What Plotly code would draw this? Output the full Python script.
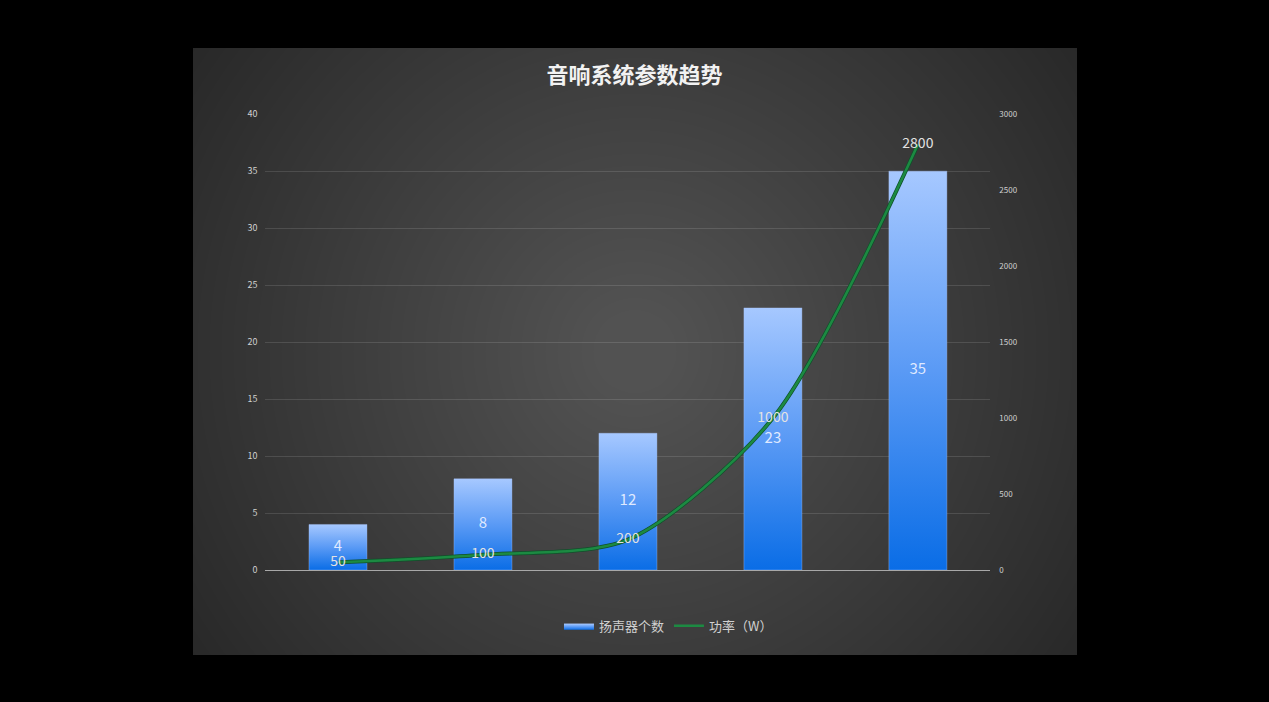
import plotly.graph_objects as go

# chart data
speakers = [4, 8, 12, 23, 35]          # 扬声器个数
power = [50, 100, 200, 1000, 2800]     # 功率（W）
bar_name = "扬声器个数"
line_name = "功率（W）"
title = "音响系统参数趋势"

FONT = "Noto Sans CJK SC, Noto Sans, sans-serif"
TICK = "#d0d0d0"

fig = go.Figure()

# background panel: many faint concentric circles on a hidden full-size subplot
fig.add_trace(go.Scatter(x=[0, 1], y=[0, 1], mode="markers",
                         marker=dict(opacity=0), hoverinfo="skip",
                         showlegend=False, xaxis="x", yaxis="y"))
shapes = [dict(type="rect", xref="paper", yref="paper", x0=0, x1=1, y0=0, y1=1,
               fillcolor="#252525", line_width=0, layer="below")]
for r in range(570, 40, -12):
    shapes.append(dict(type="circle", xref="x", yref="y",
                       xsizemode="pixel", ysizemode="pixel",
                       xanchor=0.5, yanchor=0.5, x0=-r, x1=r, y0=-r, y1=r,
                       fillcolor="rgba(255,255,255,0.007)", line_width=0,
                       layer="below"))

# bars, drawn as filled polygons so each one gets a vertical gradient
half = 0.2
for i, v in enumerate(speakers):
    fig.add_trace(go.Scatter(
        x=[i - half, i + half, i + half, i - half, i - half],
        y=[0, 0, v, v, 0],
        mode="lines", fill="toself",
        line=dict(width=0.6, color="rgba(170,200,255,0.6)"),
        fillgradient=dict(type="vertical",
                          colorscale=[[0, "#0a6de6"], [0.5, "#5a9af5"], [1, "#a6c8ff"]]),
        name=bar_name, legendgroup="bars", showlegend=(i == 0),
        hoverinfo="skip", xaxis="x2", yaxis="y2"))

fig.add_trace(go.Scatter(
    x=list(range(len(speakers))), y=[v / 2 for v in speakers],
    mode="text", text=[str(v) for v in speakers],
    textfont=dict(size=15, color="#dfe9ff", family=FONT),
    showlegend=False, hoverinfo="skip", xaxis="x2", yaxis="y2"))

# power line (dark edge + green core)
xs = list(range(len(power)))
fig.add_trace(go.Scatter(
    x=xs, y=power, mode="lines",
    line=dict(color="#10502a", width=4, shape="spline", smoothing=0.8),
    showlegend=False, hoverinfo="skip", xaxis="x2", yaxis="y3"))
fig.add_trace(go.Scatter(
    x=xs, y=power, mode="lines+text", name=line_name,
    line=dict(color="#1c8a42", width=2.6, shape="spline", smoothing=0.8),
    text=[str(v) for v in power], textposition="middle center",
    textfont=dict(size=14, color="#e2e2e2", family=FONT),
    xaxis="x2", yaxis="y3"))

fig.update_layout(
    width=1269, height=702,
    margin=dict(l=193, r=192, t=48, b=47),
    paper_bgcolor="#000000",
    plot_bgcolor="rgba(0,0,0,0)",
    shapes=shapes,
    title=dict(text="<b>" + title + "</b>", x=0.5, xanchor="center",
               y=0.893, yanchor="middle",
               font=dict(size=22, color="#f2f2f2", family=FONT)),
    font=dict(family=FONT, color=TICK),
    xaxis=dict(domain=[0, 1], range=[0, 1], visible=False, fixedrange=True),
    yaxis=dict(domain=[0, 1], range=[0, 1], visible=False, fixedrange=True),
    xaxis2=dict(domain=[0.082, 0.902], range=[-0.5, len(speakers) - 0.5],
                anchor="y2", showticklabels=False, showgrid=False,
                zeroline=False, ticks=""),
    yaxis2=dict(domain=[0.140, 0.891], range=[0, 40], dtick=5, anchor="x2",
                gridcolor="rgba(255,255,255,0.12)", gridwidth=1,
                zeroline=True, zerolinecolor="#a8a8a8", zerolinewidth=1,
                tickfont=dict(size=9, color=TICK), ticklabelstandoff=7),
    yaxis3=dict(range=[0, 3000], dtick=500, overlaying="y2", side="right",
                anchor="x2", showgrid=False, zeroline=False,
                tickfont=dict(size=8, color=TICK), ticklabelstandoff=8),
    legend=dict(orientation="h", x=0.414, xanchor="left", y=0.048,
                yanchor="middle", font=dict(size=13, color=TICK),
                bgcolor="rgba(0,0,0,0)", itemwidth=30),
)

fig.write_html("out.html", config={"displayModeBar": False},
               post_script="document.body.style.margin='0';"
                           "document.body.style.background='#000';")
